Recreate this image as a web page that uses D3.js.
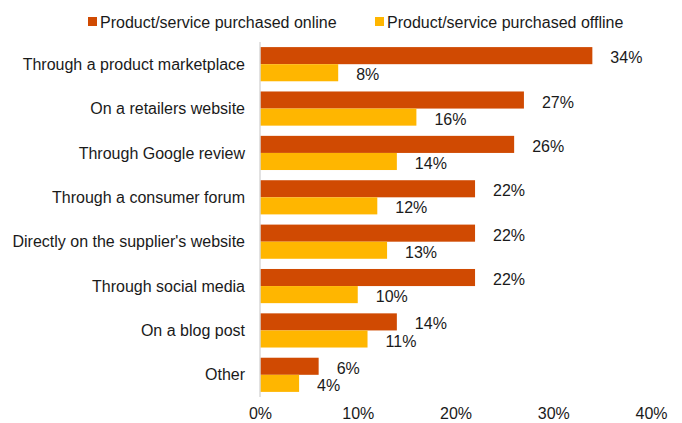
<!DOCTYPE html>
<html>
<head>
<meta charset="utf-8">
<script src="https://cdn.jsdelivr.net/npm/d3@7"></script>
<style>
  html, body { margin: 0; padding: 0; background: #fff; }
  svg { display: block; font-family: "Liberation Sans", Arial, sans-serif; }
</style>
</head>
<body>
<svg id="chart" width="682" height="423"></svg>
<script>
// Where people read reviews, split by purchase channel
const categories = [
  "Through a product marketplace",
  "On a retailers website",
  "Through Google review",
  "Through a consumer forum",
  "Directly on the supplier's website",
  "Through social media",
  "On a blog post",
  "Other"
];
const onlineValues = [34, 27, 26, 22, 22, 22, 14, 6];
const offlineValues = [8, 16, 14, 12, 13, 10, 11, 4];
const seriesNames = ["Product/service purchased online", "Product/service purchased offline"];
const seriesColors = ["#D04A02", "#FFB600"];
const xTicks = [0, 10, 20, 30, 40];

const svg = d3.select("#chart");
const FS = 16;
const margin = { top: 42, left: 260 };
const plotBottom = 397;

const x = d3.scaleLinear().domain([0, 40]).range([margin.left, margin.left + 391]);
const y = d3.scaleBand().domain(categories).range([margin.top, plotBottom]).paddingInner(0.23).paddingOuter(0.115);
const sub = d3.scaleBand().domain([0, 1]).range([0, y.bandwidth()]);

const rows = categories.map((c, i) => ({ cat: c, vals: [onlineValues[i], offlineValues[i]] }));

// bars with their value labels
const g = svg.append("g");
rows.forEach(r => {
  r.vals.forEach((v, k) => {
    g.append("rect")
      .attr("x", x(0))
      .attr("y", y(r.cat) + sub(k))
      .attr("width", x(v) - x(0))
      .attr("height", sub.bandwidth())
      .attr("fill", seriesColors[k]);
    g.append("text")
      .attr("x", x(v) + 18)
      .attr("y", y(r.cat) + sub(k) + sub.bandwidth() / 2 + 2)
      .attr("dy", "0.35em")
      .attr("font-size", FS)
      .attr("fill", "#1a1a1a")
      .text(v + "%");
  });
});

// vertical axis line
svg.append("line")
  .attr("x1", x(0)).attr("x2", x(0))
  .attr("y1", margin.top).attr("y2", plotBottom)
  .attr("stroke", "#d9d9d9").attr("stroke-width", 1.5);

// category labels
svg.selectAll(".cat")
  .data(categories)
  .enter().append("text")
  .attr("x", 245)
  .attr("y", d => y(d) + y.bandwidth() / 2)
  .attr("dy", "0.35em")
  .attr("text-anchor", "end")
  .attr("font-size", FS)
  .attr("fill", "#1a1a1a")
  .text(d => d);

// x axis ticks
const xAxis = d3.axisBottom(x).tickValues(xTicks).tickFormat(d => d + "%").tickSize(0).tickPadding(0);
const ax = svg.append("g").attr("transform", `translate(0,${plotBottom + 11})`).call(xAxis);
ax.select(".domain").remove();
ax.selectAll("text").attr("font-size", FS).attr("fill", "#1a1a1a")
  .attr("font-family", "Liberation Sans, Arial, sans-serif").attr("dy", "0.71em");

// legend
const legendX = [88, 375];
seriesNames.forEach((name, k) => {
  svg.append("rect").attr("x", legendX[k]).attr("y", 17).attr("width", 9).attr("height", 9).attr("fill", seriesColors[k]);
  svg.append("text").attr("x", legendX[k] + 12).attr("y", 22).attr("dy", "0.35em")
    .attr("font-size", FS).attr("fill", "#1a1a1a").text(name);
});
</script>
</body>
</html>
